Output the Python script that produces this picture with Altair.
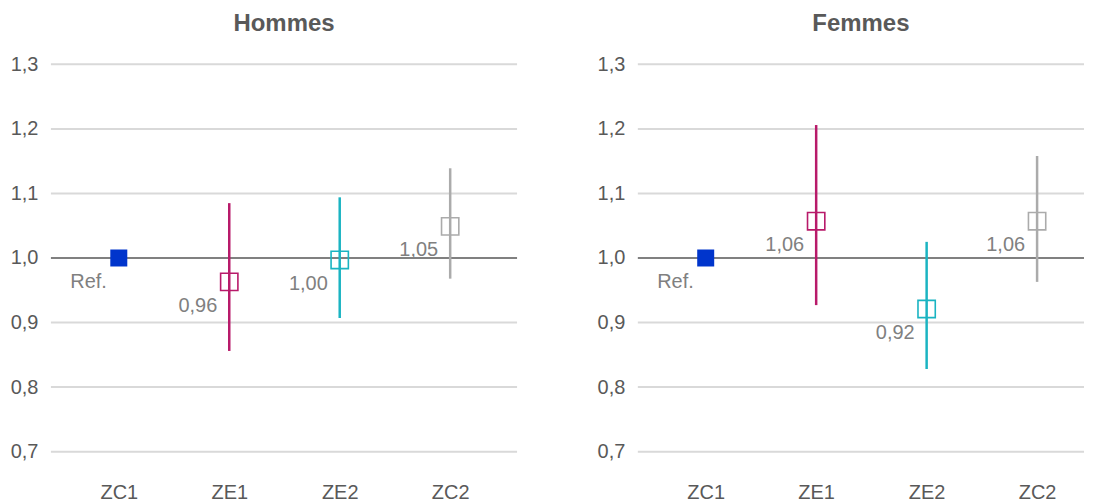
import altair as alt
import pandas as pd

categories = ["ZC1", "ZE1", "ZE2", "ZC2"]
colors = ["#0035CC", "#B81A6A", "#1AB4C2", "#ABABAB"]

hommes_rr = [1.00, 0.963, 0.997, 1.049]
hommes_low = [None, 0.856, 0.907, 0.968]
hommes_high = [None, 1.085, 1.094, 1.139]
hommes_labels = ["Ref.", "0,96", "1,00", "1,05"]

femmes_rr = [1.00, 1.057, 0.921, 1.057]
femmes_low = [None, 0.927, 0.828, 0.963]
femmes_high = [None, 1.206, 1.025, 1.158]
femmes_labels = ["Ref.", "1,06", "0,92", "1,06"]

y_ticks = [0.7, 0.8, 0.9, 1.0, 1.1, 1.2, 1.3]

FONT = "Liberation Sans"


def panel(title, rr, low, high, labels, width):
    df = pd.DataFrame({
        "cat": categories,
        "rr": rr,
        "low": low,
        "high": high,
        "label": labels,
        "ref": [c == "ZC1" for c in categories],
    })
    x = alt.X("cat:N", sort=categories,
              scale=alt.Scale(type="point", padding=0, range=[68, 400]),
              axis=alt.Axis(title=None, labelAngle=0, domain=False, ticks=False,
                            labelFontSize=20, labelColor="#595959", labelFont=FONT,
                            labelPadding=31, grid=False))
    yscale = alt.Scale(domain=[0.7, 1.3], nice=False, zero=False)
    color = alt.Color("cat:N", scale=alt.Scale(domain=categories, range=colors), legend=None)

    base = alt.Chart(df)
    axis_layer = base.mark_point(opacity=0).encode(
        x=x,
        y=alt.Y("rr:Q", scale=yscale,
                axis=alt.Axis(title=None, values=y_ticks, domain=False, ticks=False,
                              labelExpr="replace(format(datum.value, '.1f'), '.', ',')",
                              labelFontSize=20, labelColor="#595959", labelFont=FONT,
                              labelPadding=13, grid=False)),
    )
    grid = alt.Chart(pd.DataFrame({"t": [v for v in y_ticks if v != 1.0]})).mark_rule(
        color="#D9D9D9", strokeWidth=2).encode(
        y=alt.Y("t:Q", scale=yscale), x=alt.value(0), x2=alt.value(width))
    baseline = alt.Chart(pd.DataFrame({"v": [1.0]})).mark_rule(
        color="#808080", strokeWidth=2.2).encode(
        y=alt.Y("v:Q", scale=yscale), x=alt.value(0), x2=alt.value(width))
    bars = base.transform_filter("datum.low != null").mark_rule(strokeWidth=2.5).encode(
        x=x, y=alt.Y("low:Q", scale=yscale), y2="high:Q", color=color)
    open_pts = base.transform_filter("!datum.ref").mark_point(
        shape="square", filled=False, size=300, strokeWidth=1.6, opacity=1).encode(
        x=x, y=alt.Y("rr:Q", scale=yscale), color=color)
    ref_pts = base.transform_filter("datum.ref").mark_point(
        shape="square", filled=True, size=290, opacity=1).encode(
        x=x, y=alt.Y("rr:Q", scale=yscale), color=color)
    texts = base.mark_text(align="right", baseline="middle", dx=-12, dy=24,
                           fontSize=20, color="#808080", font=FONT).encode(
        x=x, y=alt.Y("rr:Q", scale=yscale), text="label:N")

    return alt.layer(axis_layer, grid, baseline, bars, open_pts, ref_pts, texts).properties(
        width=width, height=388,
        title=alt.TitleParams(title, fontSize=24, fontWeight="bold", color="#595959",
                              font=FONT, offset=18, anchor="middle"),
    )


left = panel("Hommes", hommes_rr, hommes_low, hommes_high, hommes_labels, 467)
right = panel("Femmes", femmes_rr, femmes_low, femmes_high, femmes_labels, 447)

chart = alt.hconcat(left, right, spacing=78).properties(
    padding={"left": 2, "top": 4, "right": 0, "bottom": 0}
).configure(background="white").configure_view(stroke="transparent", strokeWidth=0)

chart.save("out.html", embed_options={"renderer": "svg", "actions": False})
